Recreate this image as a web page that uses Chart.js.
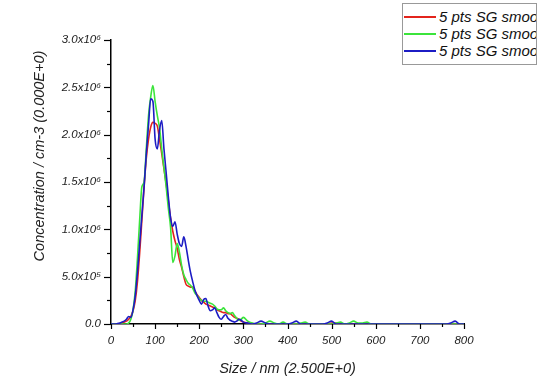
<!DOCTYPE html>
<html>
<head>
<meta charset="utf-8">
<script src="https://cdn.jsdelivr.net/npm/chart.js@4"></script>
<style>
  body { margin: 0; overflow: hidden; background: #fff; }
  #wrap { position: relative; width: 541px; height: 382px; overflow: hidden; }
  #legend {
    position: absolute; left: 402px; top: 3px; width: 133px; height: 60px;
    border: 1px solid #999; background: #fff; overflow: hidden;
    font: italic 15px "Liberation Sans", Arial, sans-serif; color: #111;
  }
  .row { position: absolute; left: 1px; height: 18px; white-space: nowrap; }
  .row span.ln { position: absolute; left: 0; top: 8px; width: 32px; height: 2px; }
  .row span.tx { position: absolute; left: 35px; top: 0; line-height: 18px; }
</style>
</head>
<body>
<div id="wrap">
  <canvas id="grafico" width="541" height="382"></canvas>
  <div id="legend"></div>
</div>
<script>
// size in nm
var sizes = [0,5,10,15,20,25,30,35,40,45,
  50,55,60,65,70,75,80,85,90,95,
  100,105,110,115,120,125,130,135,140,145,
  150,155,160,165,170,175,180,185,190,195,
  200,205,210,215,220,225,230,235,240,245,
  250,255,260,265,270,275,280,285,290,295,
  300,310,320,330,340,350,360,370,380,390,
  400,410,420,430,440,450,460,470,480,490,
  500,510,520,530,540,550,560,570,580,590,
  600,610,620,630,640,650,660,670,680,690,
  700,710,720,730,740,750,760,770,780,790,
  800];

// concentration in 10^6 cm-3
var serieVermelha = [0,0,0,0,0.005,0.01,0.02,0.03,0.05,0.08,
  0.14,0.25,0.45,0.75,1.1,1.45,1.75,1.95,2.08,2.13,
  2.12,2.09,1.95,1.8,1.64,1.48,1.3,1.12,0.98,0.88,
  0.8,0.68,0.6,0.5,0.42,0.4,0.39,0.39,0.35,0.31,
  0.28,0.25,0.23,0.21,0.2,0.19,0.18,0.17,0.15,0.14,
  0.13,0.12,0.12,0.11,0.11,0.09,0.07,0.06,0.05,0.03,
  0.02,0.01,0.005,0,0,0,0,0,0,0,
  0,0,0,0,0,0,0,0,0,0,
  0.01,0.01,0,0,0,0,0,0,0,0,
  0,0,0,0,0,0,0,0,0,0,
  0,0,0,0,0,0,0,0,0,0,
  0];

var serieVerde = [0,0,0,0,0,0,0,0,0.01,0.05,
  0.15,0.35,0.7,1.1,1.45,1.5,1.85,2.2,2.4,2.52,
  2.35,2.2,2.07,1.85,1.65,1.45,1.22,1.02,0.65,0.72,
  0.85,0.76,0.62,0.52,0.47,0.43,0.41,0.38,0.33,0.3,
  0.27,0.25,0.24,0.24,0.23,0.22,0.21,0.19,0.16,0.15,
  0.15,0.17,0.14,0.12,0.11,0.12,0.09,0.06,0.04,0.05,
  0.07,0.03,0.01,0,0,0.01,0.03,0.01,0,0.02,
  0,0,0,0.01,0.02,0,0,0,0,0,
  0,0.01,0.02,0,0.01,0.03,0.01,0.01,0.02,0,
  0,0,0,0,0,0,0,0,0,0,
  0,0,0,0,0,0,0,0,0,0,
  0];

var serieAzul = [0,0,0,0.005,0.01,0.02,0.03,0.05,0.08,0.07,
  0.15,0.3,0.55,0.85,1.15,1.45,1.8,2.1,2.38,2.35,
  1.95,1.85,2.05,2.15,1.85,1.6,1.34,1.12,1.03,1.08,
  0.95,0.85,0.82,0.92,0.82,0.68,0.55,0.45,0.36,0.3,
  0.25,0.21,0.26,0.27,0.19,0.14,0.15,0.17,0.12,0.07,
  0.05,0.08,0.1,0.06,0.04,0.03,0.02,0.03,0.05,0.04,
  0.02,0.01,0,0.01,0.03,0.01,0,0,0,0,
  0,0.01,0.03,0,0,0,0,0,0,0.01,
  0.03,0,0,0,0,0,0,0,0,0,
  0,0,0,0,0,0,0,0,0,0,
  0,0,0,0,0,0,0,0.01,0.03,0,
  0];

var nomes = ['5 pts SG smoothing', '5 pts SG smoothing', '5 pts SG smoothing'];
var cores = ['#e3241c', '#3be43b', '#1c1cc4'];

var yLabels = {0: '0.0', 0.5: '5.0x10\u2075', 1: '1.0x10\u2076', 1.5: '1.5x10\u2076',
  2: '2.0x10\u2076', 2.5: '2.5x10\u2076', 3: '3.0x10\u2076'};

function pontos (serie) {
  return sizes.map(function (s, i) { return {x: s, y: serie[i]}; });
}

var fonte = '"Liberation Sans", Arial, sans-serif';

// tick marks: major long, minor short
var marcas = {
  id: 'marcas',
  afterDraw: function (chart) {
    var ctx = chart.ctx, a = chart.chartArea;
    var sx = chart.scales.x, sy = chart.scales.y;
    ctx.save();
    ctx.strokeStyle = '#000';
    ctx.lineWidth = 1.2;
    for (var v = 0; v <= 800; v += 50) {
      var px = Math.round(sx.getPixelForValue(v)) + 0.5;
      var len = (v % 100 === 0) ? 5 : 3;
      ctx.beginPath(); ctx.moveTo(px, a.bottom); ctx.lineTo(px, a.bottom + len); ctx.stroke();
    }
    for (var w = 0; w <= 3; w += 0.25) {
      var py = Math.round(sy.getPixelForValue(w)) + 0.5;
      var l2 = (Math.abs(w * 2 - Math.round(w * 2)) < 1e-6) ? 7 : 4;
      ctx.beginPath(); ctx.moveTo(a.left, py); ctx.lineTo(a.left - l2, py); ctx.stroke();
    }
    // y title
    ctx.translate(40, 156);
    ctx.rotate(-Math.PI / 2);
    ctx.font = 'italic 14.5px ' + fonte;
    ctx.fillStyle = '#222';
    ctx.textAlign = 'center';
    ctx.textBaseline = 'middle';
    ctx.fillText('Concentration / cm-3 (0.000E+0)', 0, 0);
    ctx.restore();
  }
};

var ctx = document.getElementById('grafico').getContext('2d');
var grafico = new Chart(ctx, {
  type: 'line',
  data: {
    datasets: [0, 1, 2].map(function (k) {
      return {
        label: nomes[k],
        data: pontos([serieVermelha, serieVerde, serieAzul][k]),
        borderColor: cores[k],
        borderWidth: 1.6,
        pointRadius: 0,
        cubicInterpolationMode: 'monotone',
        fill: false,
        order: 2 - k
      };
    })
  },
  options: {
    responsive: false,
    animation: false,
    layout: { padding: { top: 40, right: 77, bottom: 0, left: 0 } },
    plugins: { legend: { display: false }, tooltip: { enabled: false } },
    scales: {
      x: {
        type: 'linear', min: 0, max: 800,
        grid: { display: false },
        border: { color: '#000', width: 1.5 },
        ticks: {
          stepSize: 50, padding: 2, color: '#222', maxRotation: 0, autoSkip: false,
          font: { family: fonte, size: 11.5, style: 'italic' },
          callback: function (v) { return v % 100 === 0 ? String(v) : ''; }
        },
        title: {
          display: true, text: 'Size / nm (2.500E+0)', color: '#222', padding: { top: 3 },
          font: { family: fonte, size: 14.5, style: 'italic' }
        },
        afterFit: function (s) { s.height = 58; }
      },
      y: {
        type: 'linear', min: 0, max: 3,
        grid: { display: false },
        border: { color: '#000', width: 1.5 },
        ticks: {
          stepSize: 0.25, padding: 2, color: '#222', autoSkip: false,
          font: { family: fonte, size: 11.5, style: 'italic' },
          callback: function (v) { return yLabels[v] !== undefined ? yLabels[v] : ''; }
        },
        afterFit: function (s) { s.width = 111; }
      }
    }
  },
  plugins: [marcas]
});

// legend box
var leg = document.getElementById('legend');
var tops = [4, 21, 38];
grafico.data.datasets.forEach(function (d, i) {
  leg.innerHTML += '<div class="row" style="top:' + tops[i] + 'px">'
    + '<span class="ln" style="background:' + d.borderColor + '"></span>'
    + '<span class="tx">' + d.label + '</span></div>';
});
</script>
</body>
</html>
